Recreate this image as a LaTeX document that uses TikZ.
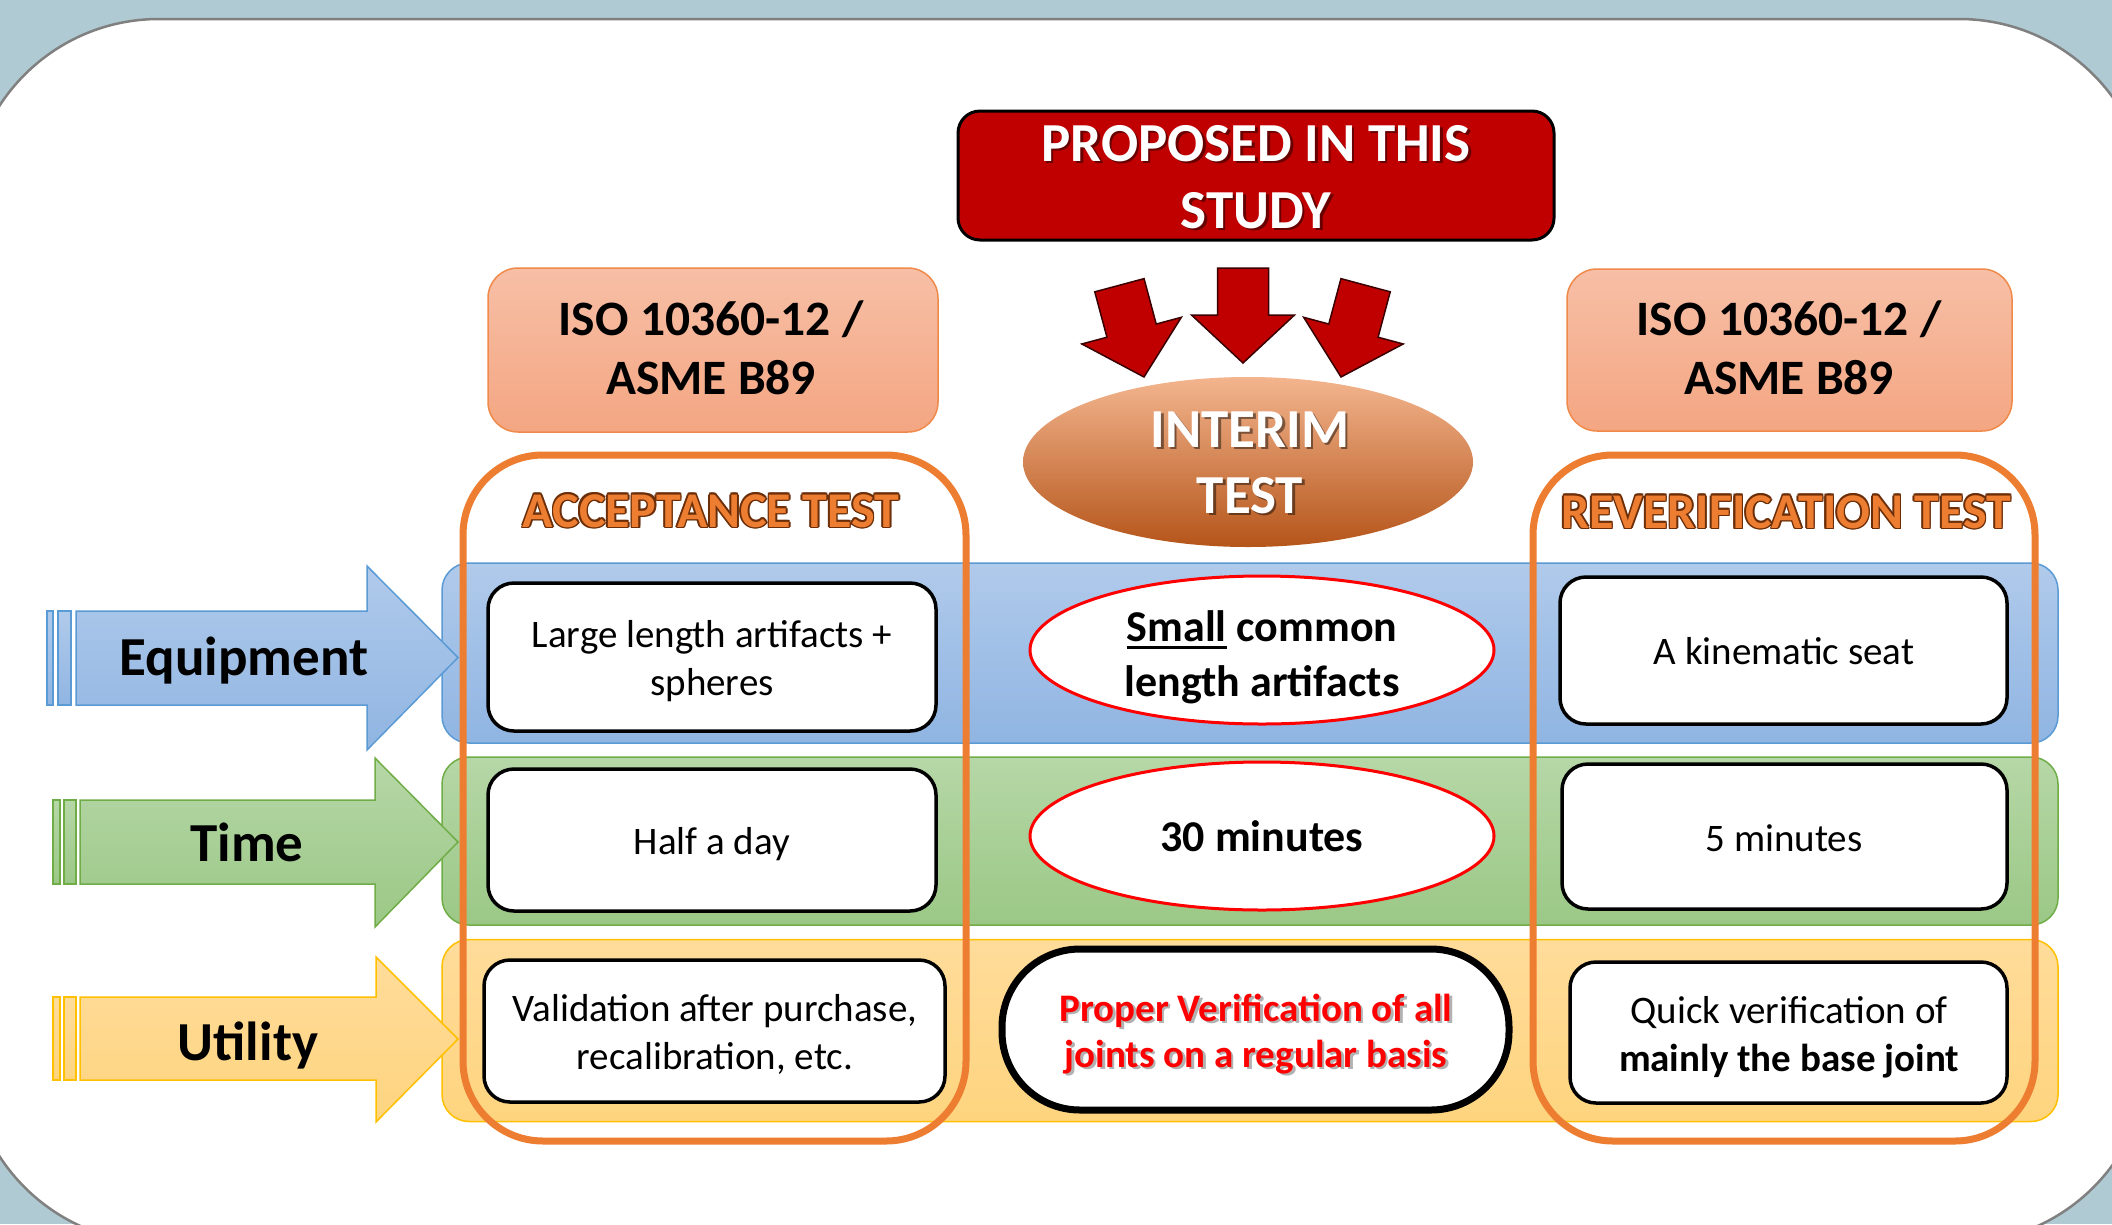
\documentclass[tikz,border=0pt]{standalone}
\usepackage{fontspec}
\setmainfont{Carlito}
\usetikzlibrary{shapes.geometric}
\definecolor{bgcol}{HTML}{AFCAD2}
\definecolor{framecol}{HTML}{808080}
\definecolor{darkred}{HTML}{C00000}
\definecolor{arrline}{HTML}{3A0000}
\definecolor{orng}{HTML}{ED7D31}
\definecolor{orngdark}{HTML}{6B2E08}
\definecolor{blueL}{HTML}{B0CAEB}
\definecolor{blueD}{HTML}{90B5E2}
\definecolor{blueB}{HTML}{5B9BD5}
\definecolor{greenL}{HTML}{B6D7A7}
\definecolor{greenD}{HTML}{9BC886}
\definecolor{greenB}{HTML}{70AD47}
\definecolor{yelL}{HTML}{FFDC9B}
\definecolor{yelD}{HTML}{FED47E}
\definecolor{yelB}{HTML}{FFC000}
\definecolor{isoL}{HTML}{F7BFA6}
\definecolor{isoD}{HTML}{F4A682}
\definecolor{isoB}{HTML}{F08A4B}
\definecolor{intL}{HTML}{F3B58E}
\definecolor{intM}{HTML}{ED8240}
\definecolor{intD}{HTML}{B5551A}
\definecolor{redtxt}{HTML}{FF0000}
\newcommand\fBig{\fontsize{55}{64}\selectfont\bfseries}
\newcommand\fProp{\fontsize{55}{64}\selectfont\bfseries}
\newcommand\fIso{\fontsize{49.5}{58}\selectfont\bfseries}
\newcommand\fHead{\fontsize{50}{58}\selectfont\bfseries}
\newcommand\fMid{\fontsize{44}{52}\selectfont\bfseries}
\newcommand\fRed{\fontsize{39}{46}\selectfont\bfseries}
\newcommand\fBox{\fontsize{39}{46}\selectfont}
\newsavebox\ulbox
\newcommand\myul[1]{\sbox\ulbox{#1}\rlap{\rule[-8pt]{\wd\ulbox}{3pt}}\usebox\ulbox}
\tikzset{
  txt/.style={anchor=base, inner sep=0pt, outer sep=0pt},
  shadowtxt/.style={txt, text=black, text opacity=0.45},
  wbox/.style={rectangle, draw=black, line width=3.5pt, fill=white, rounded corners=26pt, inner sep=0pt},
  redell/.style={ellipse, draw=redtxt, line width=3pt, fill=white, inner sep=0pt},
  column/.style={rectangle, draw=orng, line width=7pt, rounded corners=80pt, inner sep=0pt},
  isobox/.style={rectangle, draw=isoB, line width=1.5pt, top color=isoL, bottom color=isoD, rounded corners=30pt, inner sep=0pt},
  bandbox/.style={rectangle, line width=1.5pt, rounded corners=27pt, inner sep=0pt, minimum width=1616pt, minimum height=180pt},
  redarr/.style={fill=darkred, draw=arrline, line width=1.5pt, line join=miter},
  bluearr/.style={draw=blueB, line width=1.5pt, top color=blueL, bottom color=blueD},
  greenarr/.style={draw=greenB, line width=1.5pt, top color=greenL, bottom color=greenD},
  yelarr/.style={draw=yelB, line width=1.5pt, top color=yelL, bottom color=yelD},
}
\begin{document}
\begin{tikzpicture}[x=1pt,y=-1pt]
\useasboundingbox (0,0) rectangle (2112,1224);
\fill[bgcol] (0,0) rectangle (2112,1224);
\begin{scope}
\clip (0,0) rectangle (2112,1224);
\draw[draw=framecol, line width=2.5pt, fill=white, rounded corners=190pt] (-31,19) rectangle (2149,1243);
\end{scope}

% proposed box
\node[rectangle, draw=black, line width=3pt, fill=darkred, rounded corners=22pt, minimum width=596pt, minimum height=129pt] (prop) at (1256,175.5) {};
\node[shadowtxt, font=\fProp] (propS1) at (1258.5,163.5) {PROPOSED IN THIS};
\node[shadowtxt, font=\fProp] (propS2) at (1258.5,230.5) {STUDY};
\node[txt, font=\fProp, text=white] (prop1) at (1256,161) {PROPOSED IN THIS};
\node[txt, font=\fProp, text=white] (prop2) at (1256,228) {STUDY};

% red arrows
\begin{scope}[shift={(1243,363)}]
\draw[redarr] (-25.5,-95) -- (25.5,-95) -- (25.5,-48) -- (51.5,-48) -- (0,0) -- (-51.5,-48) -- (-25.5,-48) -- cycle;
\end{scope}
\begin{scope}[shift={(1144,377)}, rotate=15]
\draw[redarr] (-25.5,-95) -- (25.5,-95) -- (25.5,-48) -- (51.5,-48) -- (0,0) -- (-51.5,-48) -- (-25.5,-48) -- cycle;
\end{scope}
\begin{scope}[shift={(1341,377)}, rotate=-15]
\draw[redarr] (-25.5,-95) -- (25.5,-95) -- (25.5,-48) -- (51.5,-48) -- (0,0) -- (-51.5,-48) -- (-25.5,-48) -- cycle;
\end{scope}

% interim ellipse
\node[ellipse, minimum width=450pt, minimum height=170pt, inner sep=0pt, top color=intL, middle color=intM, bottom color=intD] (interim) at (1248,462) {};
\node[shadowtxt, font=\fBig] (intS1) at (1252.5,449.5) {INTERIM};
\node[shadowtxt, font=\fBig] (intS2) at (1252.5,515.5) {TEST};
\node[txt, font=\fBig, text=white] (int1) at (1250,447) {INTERIM};
\node[txt, font=\fBig, text=white] (int2) at (1250,513) {TEST};

% ISO boxes
\node[isobox, minimum width=450pt, minimum height=164pt] (isoL) at (713,350) {};
\node[isobox, minimum width=445pt, minimum height=162pt] (isoR) at (1789.5,350) {};
\node[txt, font=\fIso] (isoL1) at (711,335) {ISO 10360-12 /};
\node[txt, font=\fIso] (isoL2) at (711,394) {ASME B89};
\node[txt, font=\fIso] (isoR1) at (1789,335) {ISO 10360-12 /};
\node[txt, font=\fIso] (isoR2) at (1789,394) {ASME B89};

% bands
\node[bandbox, draw=blueB, top color=blueL, bottom color=blueD] (bandE) at (1250,653) {};
\node[bandbox, draw=greenB, top color=greenL, bottom color=greenD, minimum height=168pt] (bandT) at (1250,841) {};
\node[bandbox, draw=yelB, top color=yelL, bottom color=yelD, minimum height=182pt] (bandU) at (1250,1030.5) {};

% left arrows
\draw[bluearr] (47,611) rectangle (53,705);
\draw[bluearr] (58,611) rectangle (71,705);
\draw[bluearr] (76,611) -- (367,611) -- (367,566) -- (458,657.5) -- (367,750) -- (367,705) -- (76,705) -- cycle;
\draw[greenarr] (53,800) rectangle (60,884);
\draw[greenarr] (64,800) rectangle (76,884);
\draw[greenarr] (80,800) -- (375,800) -- (375,758) -- (458,842) -- (375,927) -- (375,884) -- (80,884) -- cycle;
\draw[yelarr] (53,997) rectangle (60,1080);
\draw[yelarr] (64,997) rectangle (76,1080);
\draw[yelarr] (80,997) -- (376,997) -- (376,957) -- (458,1039) -- (376,1122) -- (376,1080) -- (80,1080) -- cycle;
\node[txt, font=\fBig] (equip) at (244,675) {Equipment};
\node[txt, font=\fBig] (time) at (247,861) {Time};
\node[txt, font=\fBig] (util) at (248,1060) {Utility};

% columns
\node[column, minimum width=503pt, minimum height=686pt] (acc) at (714.5,798) {};
\node[column, minimum width=502pt, minimum height=686pt] (rev) at (1784,798) {};
\foreach \dx/\dy [count=\i] in {-1.6/0,1.6/0,0/-1.6,0/1.6,-1.1/-1.1,1.1/1.1,-1.1/1.1,1.1/-1.1}{
  \node[txt, font=\fHead, text=orngdark] (accO\i) at (711+\dx,527+\dy) {ACCEPTANCE TEST};
  \node[txt, font=\fHead, text=orngdark] (revO\i) at (1786+\dx,528+\dy) {REVERIFICATION TEST};
}
\node[txt, font=\fHead, text=orng] (accT) at (711,527) {ACCEPTANCE TEST};
\node[txt, font=\fHead, text=orng] (revT) at (1786,528) {REVERIFICATION TEST};

% left column boxes
\node[wbox, minimum width=448pt, minimum height=148pt] (b1) at (712,657) {};
\node[wbox, minimum width=448pt, minimum height=142pt] (b2) at (712,840) {};
\node[wbox, minimum width=461pt, minimum height=142pt] (b3) at (714.5,1031) {};
\node[txt, font=\fBox] (b1a) at (712,647) {Large length artifacts +};
\node[txt, font=\fBox] (b1b) at (712,695) {spheres};
\node[txt, font=\fBox] (b2a) at (712,854) {Half a day};
\node[txt, font=\fBox] (b3a) at (715,1021) {Validation after purchase,};
\node[txt, font=\fBox] (b3b) at (715,1069) {recalibration, etc.};

% middle
\node[redell, minimum width=464pt, minimum height=148pt] (e1) at (1262,650) {};
\node[redell, minimum width=464pt, minimum height=148pt] (e2) at (1262,836) {};
\node[rectangle, draw=black, line width=7pt, fill=white, rounded corners=78pt, minimum width=507pt, minimum height=161pt] (proper) at (1255.5,1029.5) {};
\node[txt, font=\fMid] (e1a) at (1262,641) {\myul{Small} common};
\node[txt, font=\fMid] (e1b) at (1262,696) {length artifacts};
\node[txt, font=\fMid] (e2a) at (1262,851) {30 minutes};
\node[shadowtxt, font=\fRed, text opacity=0.3] (prS1) at (1258.5,1023.5) {Proper Verification of all};
\node[shadowtxt, font=\fRed, text opacity=0.3] (prS2) at (1258.5,1069.5) {joints on a regular basis};
\node[txt, font=\fRed, text=redtxt] (pr1) at (1256,1021) {Proper Verification of all};
\node[txt, font=\fRed, text=redtxt] (pr2) at (1256,1067) {joints on a regular basis};

% right column boxes
\node[wbox, minimum width=447pt, minimum height=147pt] (r1) at (1783.5,650.5) {};
\node[wbox, minimum width=445pt, minimum height=145pt] (r2) at (1784.5,836.5) {};
\node[wbox, minimum width=437pt, minimum height=141pt] (r3) at (1788.5,1032.5) {};
\node[txt, font=\fBox] (r1a) at (1784,664) {A kinematic seat};
\node[txt, font=\fBox] (r2a) at (1784,851) {5 minutes};
\node[txt, font=\fBox] (r3a) at (1789,1023) {Quick verification of};
\node[txt, font=\fBox\bfseries] (r3b) at (1789,1071) {mainly the base joint};
\end{tikzpicture}
\end{document}
